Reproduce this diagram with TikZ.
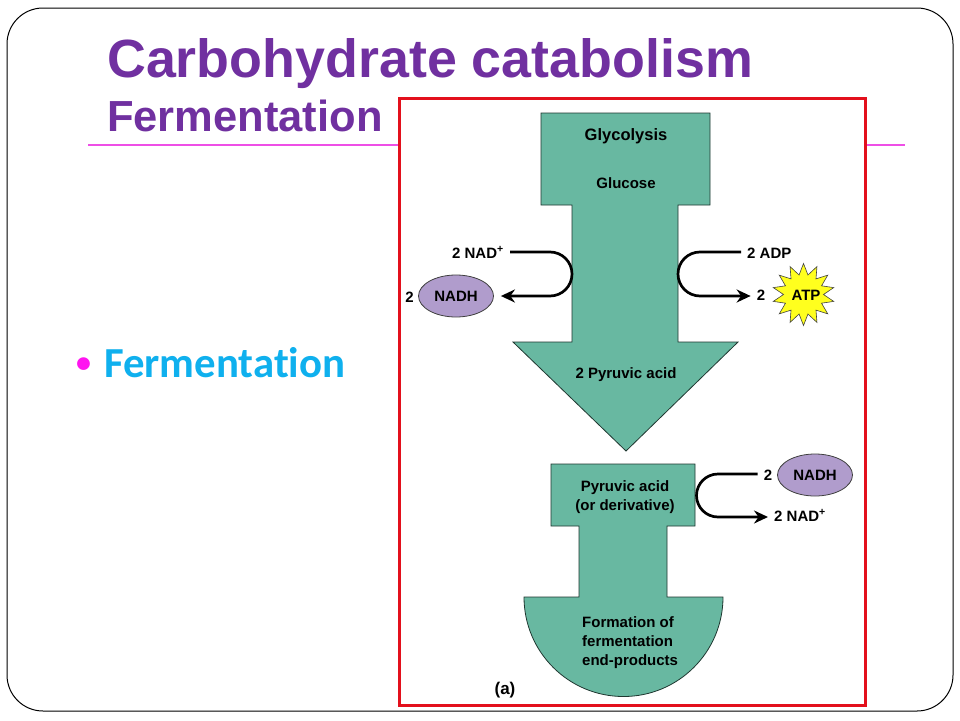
\documentclass[tikz,border=0pt]{standalone}
\usepackage{fontspec}
\setmainfont{Liberation Sans}
\newfontfamily\bulletfont[Ligatures=NoCommon]{Carlito}
\usetikzlibrary{arrows.meta,shapes.geometric}
\definecolor{titlepurple}{HTML}{7030A0}
\definecolor{arrowgreen}{HTML}{68B8A1}
\definecolor{nadhpurple}{HTML}{B09CCC}
\definecolor{atpyellow}{HTML}{FFFF1E}
\definecolor{magentaline}{HTML}{EE4FE6}
\definecolor{boxred}{HTML}{E3101C}
\definecolor{bulletblue}{HTML}{0FB0EE}
\definecolor{bulletdot}{HTML}{FF14F0}
\tikzset{
    block/.style={fill=arrowgreen,draw=black!70!arrowgreen,line width=0.8pt},
    flow/.style={line width=2.7pt,-{Stealth[length=14pt,width=13pt]}},
    label/.style={inner sep=1pt,font=\bfseries\fontsize{15}{19}\selectfont,align=center},
    reagent/.style={label,inner sep=6pt,text height=10pt,text depth=2pt},
    reagenthigh/.style={label,inner sep=6pt,text height=12pt,text depth=0pt},
    carrier/.style={ellipse,draw=black!75,fill=nadhpurple,line width=0.8pt,minimum width=75pt,minimum height=42pt,inner sep=0pt,font=\bfseries\fontsize{15}{19}\selectfont}
}
\begin{document}
\begin{tikzpicture}[x=1pt,y=-1pt]
    \useasboundingbox (0,0) rectangle (960,720);
    \fill[white] (0,0) rectangle (960,720);
    \draw[black,line width=1pt,rounded corners=36pt] (7,8) rectangle (953,711); % marco
    \draw[magentaline,line width=1.2pt] (88,145) -- (905,145);
    \node[anchor=base west,inner sep=0,text=titlepurple,font=\bfseries\fontsize{53.8}{54}\selectfont] (maintitle) at (107,77) {Carbohydrate catabolism};
    \node[anchor=base west,inner sep=0,text=titlepurple,font=\bfseries\fontsize{43.5}{44}\selectfont] (subtitle) at (107,131) {Fermentation};
    \node[anchor=base,inner sep=0,text=bulletdot,font=\bulletfont\bfseries\fontsize{30}{30}\selectfont] (bullet) at (83.5,372) {\textbullet};
    \node[anchor=base west,inner sep=0,text=bulletblue,font=\bulletfont\bfseries\fontsize{42.8}{43}\selectfont] (fermentation) at (104,377) {Fermentation};
    \draw[boxred,fill=white,line width=3pt] (399,98) rectangle (865,705); % recuadro
    % flechas verdes
    \draw[block] (541,113) -- (710,113) -- (710,205) -- (678,205) -- (678,342) -- (738,342) -- (626,451) -- (513,342) -- (572,342) -- (572,205) -- (541,205) -- cycle;
    \draw[block] (551,464) -- (695,464) -- (695,526) -- (667,526) -- (667,597) -- (723,597) arc[start angle=0,end angle=-180,radius=99.5pt] -- (579,597) -- (579,526) -- (551,526) -- cycle;
    \node[label,font=\bfseries\fontsize{16.5}{19}\selectfont] (glycolysis) at (626,136) {Glycolysis};
    \node[label] (glucose) at (626,183) {Glucose};
    \node[label] (pyruvic) at (626,375) {2 Pyruvic acid};
    \node[label] (derivative) at (625,497) {Pyruvic acid\\(or derivative)};
    \node[label,align=left,anchor=west] (products) at (581,643) {Formation of\\fermentation\\end-products};
    \node[label,font=\bfseries\fontsize{17}{19}\selectfont] (panel) at (505,690) {(a)};
    % lado izquierdo
    \node[reagenthigh,anchor=east] (nadin) at (510,252) {2 NAD\textsuperscript{+}};
    \node[carrier] (nadhout) at (456,296) {NADH};
    \node[label,anchor=east] (nadhcount) at (415,297) {2};
    \draw[flow,shorten >=7pt] (nadin.east) -- (550,252) arc[start angle=90,end angle=-90,radius=22pt] -- (nadhout.east);
    % lado derecho
    \node[reagenthigh,anchor=west] (adp) at (741,252) {2 ADP};
    \node[reagent] (atpcount) at (761,296) {2};
    \node[star,star points=14,star point ratio=1.55,draw=black!75,fill=atpyellow,line width=0.6pt,minimum size=62pt,inner sep=0pt] (atpstar) at (803.5,294.5) {};
    \node[label] (atp) at (806,295) {ATP};
    \draw[flow] (adp.west) -- (700,252) arc[start angle=90,end angle=270,radius=22pt] -- (atpcount.west);
    % segunda reaccion
    \node[carrier] (nadhin) at (815,475) {NADH};
    \node[reagenthigh] (nadhincount) at (768,474) {2};
    \node[reagent,anchor=west] (nadout) at (768,517) {2 NAD\textsuperscript{+}};
    \draw[flow] (nadhincount.west) -- (718,474) arc[start angle=90,end angle=270,radius=21.5pt] -- (nadout.west);
\end{tikzpicture}
\end{document}
